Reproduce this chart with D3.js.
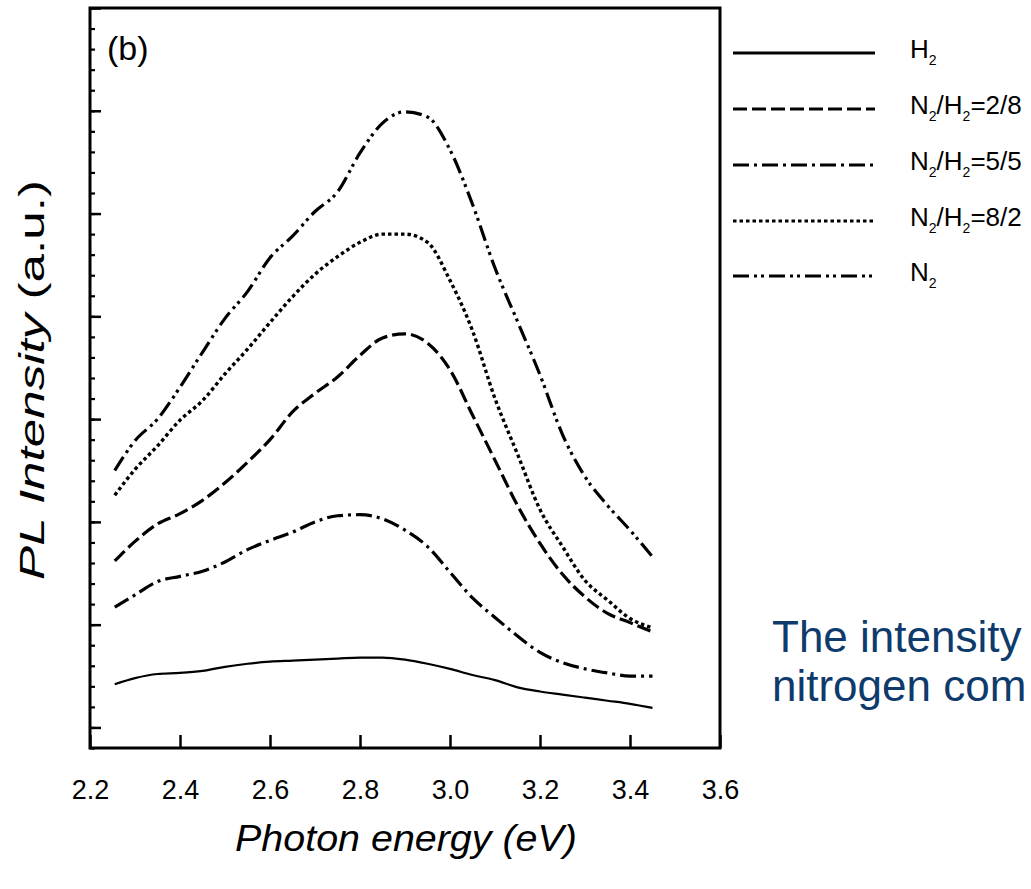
<!DOCTYPE html>
<html><head><meta charset="utf-8">
<script src="https://cdn.jsdelivr.net/npm/d3@7"></script>
<style>body{margin:0;background:#fff}svg{display:block}</style>
</head><body>
<svg id="c" width="1031" height="889"></svg>
<script>
// ---------- data ----------
const energy = [2.255, 2.30, 2.35, 2.40, 2.45, 2.50, 2.55, 2.60, 2.65, 2.70, 2.75, 2.80, 2.85,
                2.90, 2.95, 3.00, 3.05, 3.10, 3.15, 3.20, 3.25, 3.30, 3.35, 3.40, 3.45];
const seriesNames = ["H_2", "N_2/H_2=2/8", "N_2/H_2=5/5", "N_2/H_2=8/2", "N_2"];
const valH2   = [0.42, 0.48, 0.52, 0.53, 0.55, 0.59, 0.62, 0.64, 0.65, 0.66, 0.67, 0.68, 0.68,
                 0.66, 0.62, 0.57, 0.51, 0.46, 0.39, 0.35, 0.32, 0.29, 0.26, 0.23, 0.19];
const val28   = [1.62, 1.81, 1.98, 2.08, 2.21, 2.38, 2.58, 2.80, 3.07, 3.25, 3.41, 3.62, 3.79,
                 3.83, 3.74, 3.48, 3.04, 2.60, 2.16, 1.79, 1.49, 1.27, 1.11, 1.02, 0.93];
const val55   = [1.17, 1.29, 1.42, 1.47, 1.52, 1.61, 1.73, 1.82, 1.90, 2.00, 2.06, 2.07, 2.03,
                 1.92, 1.76, 1.51, 1.26, 1.07, 0.89, 0.73, 0.63, 0.57, 0.53, 0.50, 0.50];
const val82   = [2.26, 2.51, 2.74, 2.99, 3.18, 3.44, 3.68, 3.94, 4.19, 4.41, 4.58, 4.72, 4.80,
                 4.80, 4.72, 4.35, 3.86, 3.20, 2.66, 2.12, 1.76, 1.43, 1.24, 1.06, 0.97];
const valN2   = [2.50, 2.79, 3.00, 3.31, 3.65, 3.98, 4.24, 4.57, 4.78, 5.02, 5.21, 5.59, 5.88,
                 5.99, 5.94, 5.62, 5.09, 4.47, 3.95, 3.43, 2.85, 2.44, 2.16, 1.92, 1.66];
const xTicks = [2.2, 2.4, 2.6, 2.8, 3.0, 3.2, 3.4, 3.6];
const yMajorTicks = [0, 1, 2, 3, 4, 5, 6, 7];
const yMinorTicks = d3.range(-0.2, 7.01, 0.2);
const panelLabel = "(b)";
const xTitle = "Photon energy (eV)";
const yTitleItalic = "PL Intensity ";
const yTitleUpright = "(a.u.)";
const noteLines = ["The intensity", "nitrogen com"];

// ---------- styles ----------
const allValues = [valH2, val28, val55, val82, valN2];
const dashes = [null, "14,5", "16,5,3,5", "3.5,3", "16,5,3,4,3,5"];
const widths = [2.2, 3.2, 3.2, 3.4, 3.2];
const FONT = "'Liberation Sans', Arial, Helvetica, sans-serif";

const svg = d3.select("#c");
const x = d3.scaleLinear().domain([2.2, 3.6]).range([90, 720]);
const y = d3.scaleLinear().domain([-0.2, 7]).range([748, 8]);

// curves
const line = d3.line().x((d, i) => x(energy[i])).y(d => y(d)).curve(d3.curveMonotoneX);
allValues.forEach((vals, k) => {
  svg.append("path").attr("d", line(vals)).attr("fill", "none")
    .attr("stroke", "#000").attr("stroke-width", widths[k])
    .attr("stroke-dasharray", dashes[k]).attr("stroke-linejoin", "round");
});

// x axis
const gx = svg.append("g").attr("transform", "translate(0,748)")
  .call(d3.axisBottom(x).tickValues(xTicks).tickSize(-13).tickPadding(32).tickFormat(d3.format(".1f")));
gx.select(".domain").remove();
gx.selectAll(".tick line").attr("stroke", "#000").attr("stroke-width", 2.5);
gx.selectAll(".tick text").attr("font-family", FONT).attr("font-size", 27).attr("fill", "#000");

// y axis (inward ticks, no labels)
const gyMinor = svg.append("g").attr("transform", "translate(90,0)")
  .call(d3.axisLeft(y).tickValues(yMinorTicks).tickSize(-5).tickFormat(""));
gyMinor.select(".domain").remove();
gyMinor.selectAll(".tick line").attr("stroke", "#000").attr("stroke-width", 2.2);
const gyMajor = svg.append("g").attr("transform", "translate(90,0)")
  .call(d3.axisLeft(y).tickValues(yMajorTicks).tickSize(-11).tickFormat(""));
gyMajor.select(".domain").remove();
gyMajor.selectAll(".tick line").attr("stroke", "#000").attr("stroke-width", 2.5);

// frame
svg.append("rect").attr("x", x(2.2)).attr("y", y(7)).attr("width", x(3.6) - x(2.2))
  .attr("height", y(-0.2) - y(7)).attr("fill", "none").attr("stroke", "#000").attr("stroke-width", 3);

// panel label
svg.append("text").attr("x", 107).attr("y", 60).attr("font-family", FONT)
  .attr("font-size", 34).text(panelLabel);

// x title
const xt = svg.append("text").attr("font-family", FONT).attr("font-size", 37)
  .attr("font-style", "italic").attr("text-anchor", "middle").text(xTitle);
const xl = xt.node().getComputedTextLength();
xt.attr("transform", `translate(406,851) scale(${342 / xl},1)`);

// y title
const yt = svg.append("text").attr("font-family", FONT).attr("font-size", 36).attr("text-anchor", "middle");
yt.append("tspan").attr("font-style", "italic").text(yTitleItalic);
yt.append("tspan").text(yTitleUpright);
const yl = yt.node().getComputedTextLength();
yt.attr("transform", `translate(44,380) rotate(-90) scale(${400 / yl},1)`);

// legend
const legRows = [53, 109, 165, 221, 276];
seriesNames.forEach((name, k) => {
  svg.append("line").attr("x1", 733).attr("x2", 875).attr("y1", legRows[k]).attr("y2", legRows[k])
    .attr("stroke", "#000").attr("stroke-width", 3.2).attr("stroke-dasharray", dashes[k]);
  const t = svg.append("text").attr("x", 910).attr("y", legRows[k] + 5)
    .attr("font-family", FONT).attr("font-size", 26);
  const parts = name.split(/(_\d)/).filter(s => s.length);
  let shifted = false;
  parts.forEach(p => {
    if (p.startsWith("_")) {
      t.append("tspan").attr("font-size", 14).attr("dy", 7).text(p.slice(1));
      shifted = true;
    } else {
      t.append("tspan").attr("dy", shifted ? -7 : 0).text(p);
      shifted = false;
    }
  });
});

// note text
noteLines.forEach((s, i) => {
  svg.append("text").attr("x", 772).attr("y", 652 + i * 49).attr("font-family", FONT)
    .attr("font-size", 44).attr("fill", "#0f3a6c").text(s);
});
</script>
</body></html>
